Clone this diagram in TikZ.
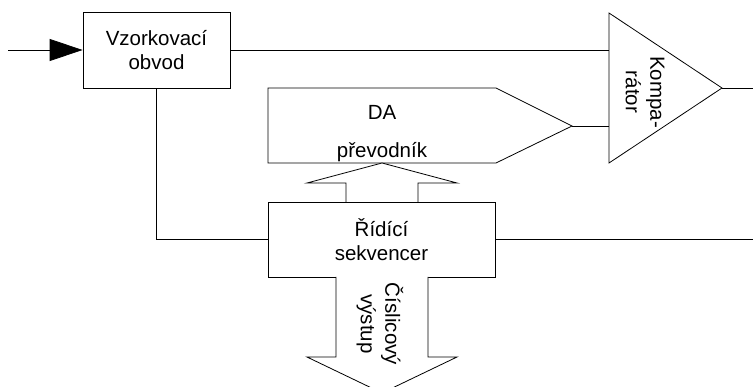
\documentclass[tikz,border=0pt]{standalone}
\usepackage{fontspec}
\setmainfont{Liberation Sans}
\usetikzlibrary{arrows.meta}
\begin{document}
\begin{tikzpicture}[x=1pt,y=-1pt,line width=0.8pt,
  every node/.style={font=\fontsize{20.5}{24.5}\selectfont},
  block/.style={draw,fill=white,align=center,inner sep=0pt},
  wire/.style={draw},
  hollow/.style={draw,fill=white,line join=miter}]
\useasboundingbox (0,0) rectangle (753,387);

% blocks
\node[block,minimum width=147pt,minimum height=76pt] (vz) at (156.5,50) {Vzorkovací\\obvod};
\node[block,minimum width=227pt,minimum height=75pt] (rs) at (381.5,239.5) {Řídící\\sekvencer};

% DA converter outline
\coordinate (da-out) at (572,126);
\coordinate (da-in) at (382,163);
\draw (268,88) -- (496,88) -- (da-out) -- (496,163) -- (268,163) -- cycle;
\node[anchor=base] (da1) at (382,120) {DA};
\node[anchor=base] (da2) at (382,158) {převodník};

% comparator
\coordinate (cmp-in1) at (609,50);
\coordinate (cmp-in2) at (609,126);
\coordinate (cmp-out) at (722,88);
\draw (609,13) -- (cmp-out) -- (609,163) -- cycle;
\node[rotate=-90,align=center] (cmplbl) at (645,92) {Kompa-\\rátor};

% input and signal lines
\coordinate (in) at (8,50);
\coordinate (out) at (753,88);
\coordinate (seq-out) at (753,239.5);
\draw[-{Triangle[length=33pt,width=22pt]}] (in) -- (vz.west);
\draw (vz.east) -- (cmp-in1);
\draw (da-out) -- (cmp-in2);
\draw (cmp-out) -- (out);
\draw (vz.south) |- (rs.west);
\draw (rs.east) -- (seq-out);

% bus arrow from sequencer up to the DA converter
\draw[hollow] (346,202) -- (346,183) -- (307,183) -- (da-in) -- (457,183) -- (418,183) -- (418,202);
% digital output bus
\draw[hollow] (336,277) -- (336,357) -- (307,357) -- (382,393) -- (457,357) -- (428,357) -- (428,277);
\node[rotate=-90,align=center] (outlbl) at (380,324) {Číslicový\\výstup};
\end{tikzpicture}
\end{document}
